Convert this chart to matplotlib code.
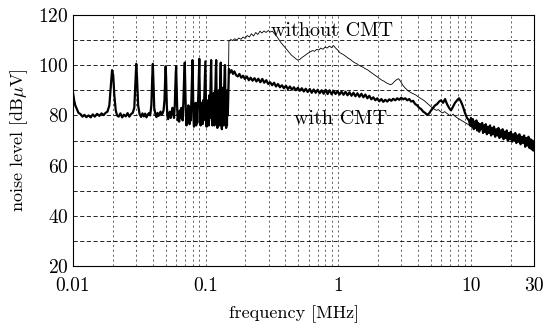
import matplotlib
matplotlib.use("Agg")
import matplotlib.pyplot as plt
import numpy as np

plt.rcParams['font.family'] = ['cmr10', 'DejaVu Serif']
plt.rcParams['mathtext.fontset'] = 'cm'
plt.rcParams['axes.formatter.use_mathtext'] = True

# below 150 kHz both traces coincide (harmonics of 10 kHz)
freq_low = [0.0100, 0.0102, 0.0104, 0.0107, 0.0110, 0.0114, 0.0118, 0.0122, 0.0126, 0.0131,
            0.0136, 0.0141, 0.0146, 0.0152, 0.0158, 0.0164, 0.0170, 0.0176, 0.0182, 0.0188,
            0.0193, 0.0197, 0.0201, 0.0205, 0.0210, 0.0215, 0.0221, 0.0228, 0.0235, 0.0242,
            0.0250, 0.0258, 0.0266, 0.0274, 0.0282, 0.0290, 0.0296, 0.0300, 0.0304, 0.0310,
            0.0318, 0.0326, 0.0334, 0.0342, 0.0350, 0.0358, 0.0366, 0.0374, 0.0382, 0.0390,
            0.0396, 0.0400, 0.0404, 0.0410, 0.0418, 0.0426, 0.0434, 0.0442, 0.0450, 0.0458,
            0.0466, 0.0474, 0.0482, 0.0490, 0.0496, 0.0500, 0.0504, 0.0510, 0.0516, 0.0522,
            0.0530, 0.0538, 0.0546, 0.0554, 0.0562, 0.0570, 0.0578, 0.0586, 0.0592, 0.0596,
            0.0600, 0.0604, 0.0610, 0.0617, 0.0624, 0.0632, 0.0640, 0.0648, 0.0656, 0.0664,
            0.0672, 0.0680, 0.0690, 0.0697, 0.0703, 0.0710, 0.0718, 0.0726, 0.0734, 0.0742,
            0.0750, 0.0758, 0.0766, 0.0774, 0.0782, 0.0790, 0.0797, 0.0803, 0.0810, 0.0818,
            0.0826, 0.0834, 0.0842, 0.0850, 0.0858, 0.0866, 0.0874, 0.0882, 0.0890, 0.0897,
            0.0903, 0.0910, 0.0918, 0.0926, 0.0934, 0.0942, 0.0950, 0.0958, 0.0966, 0.0974,
            0.0982, 0.0990, 0.0997, 0.1003, 0.1010, 0.1018, 0.1028, 0.1038, 0.1048, 0.1058,
            0.1068, 0.1078, 0.1088, 0.1096, 0.1102, 0.1108, 0.1116, 0.1126, 0.1136, 0.1146,
            0.1156, 0.1166, 0.1176, 0.1186, 0.1196, 0.1203, 0.1210, 0.1218, 0.1228, 0.1238,
            0.1248, 0.1258, 0.1268, 0.1278, 0.1288, 0.1296, 0.1302, 0.1310, 0.1318, 0.1328,
            0.1338, 0.1348, 0.1358, 0.1368, 0.1378, 0.1388, 0.1396, 0.1403, 0.1410, 0.1420,
            0.1430, 0.1440, 0.1450, 0.1460, 0.1470, 0.1480]
level_low = [89, 86, 84, 82.5, 81, 80.5, 79.5, 80.2, 79.3, 80,
             79.2, 80.4, 79.5, 80.6, 79.8, 80.8, 80.1, 81, 81.5, 84,
             92, 98, 96, 88, 82, 80, 79.5, 80.8, 79.2, 80.3,
             79.6, 80.9, 79.5, 80.5, 81, 83, 94, 100.5, 95, 84,
             80.5, 79.4, 80.8, 79.6, 80.7, 79.2, 80.3, 80.9, 80, 84,
             95, 100.5, 94, 83, 80.5, 79.3, 81, 79.8, 80.6, 81.5,
             80.2, 80.8, 82, 86, 95, 99.5, 95, 84, 79.5, 78.5,
             80.5, 81.5, 79, 80.5, 83, 81.5, 79, 84, 92, 97,
             99.5, 93, 84, 78, 81, 77.5, 82, 79, 83, 80,
             78, 85, 96, 101, 92, 81, 76, 82, 77, 84,
             79, 76.5, 83, 78, 86, 94, 102, 93, 79, 75.5,
             83, 77, 85, 76, 82, 77, 84, 88, 96, 102.5,
             91, 78, 76, 85, 77, 83, 76.5, 86, 78, 84,
             89, 97, 101.5, 92, 79, 75.5, 86, 77, 84, 76,
             88, 79, 90, 98, 102, 93, 78, 76, 87, 77,
             89, 76, 85, 91, 99, 102, 90, 77, 75, 88,
             77, 90, 76, 86, 93, 99, 101, 89, 76, 74.5,
             87, 78, 91, 76, 88, 94, 100, 100, 88, 77,
             75, 88, 76, 90, 80, 85]

freq_with = [0.1480, 0.150, 0.153, 0.157, 0.161, 0.165, 0.170, 0.175, 0.180, 0.186, 0.192,
             0.198, 0.205, 0.212, 0.219, 0.226, 0.234, 0.242, 0.250, 0.259, 0.268,
             0.277, 0.287, 0.297, 0.307, 0.318, 0.329, 0.340, 0.352, 0.364, 0.377,
             0.390, 0.404, 0.418, 0.433, 0.448, 0.464, 0.480, 0.497, 0.514, 0.532,
             0.551, 0.570, 0.590, 0.611, 0.632, 0.654, 0.677, 0.701, 0.726, 0.751,
             0.778, 0.805, 0.833, 0.862, 0.893, 0.924, 0.956, 0.990, 1.025, 1.061,
             1.098, 1.137, 1.177, 1.218, 1.261, 1.305, 1.351, 1.398, 1.447, 1.498,
             1.551, 1.605, 1.662, 1.720, 1.780, 1.843, 1.908, 1.975, 2.04, 2.12,
             2.19, 2.27, 2.35, 2.43, 2.52, 2.60, 2.70, 2.79, 2.89, 2.99,
             3.10, 3.21, 3.32, 3.44, 3.56, 3.68, 3.81, 3.95, 4.09, 4.23,
             4.38, 4.53, 4.69, 4.86, 5.03, 5.21, 5.39, 5.58, 5.78, 5.98,
             6.19, 6.41, 6.63, 6.87, 7.11, 7.36, 7.62, 7.89, 8.17, 8.45,
             8.75, 9.06, 9.38, 9.71, 9.9, 10.05, 10.2, 10.4, 10.55, 10.7,
             10.9, 11.05, 11.2, 11.4, 11.6, 11.8, 12.0, 12.2, 12.4, 12.6,
             12.8, 13.0, 13.25, 13.5, 13.75, 14.0, 14.25, 14.5, 14.75, 15.0,
             15.3, 15.6, 15.9, 16.2, 16.5, 16.8, 17.1, 17.4, 17.7, 18.0,
             18.35, 18.7, 19.05, 19.4, 19.75, 20.1, 20.5, 20.9, 21.3, 21.7,
             22.1, 22.5, 22.9, 23.3, 23.8, 24.3, 24.8, 25.3, 25.8, 26.3,
             26.8, 27.3, 27.8, 28.3, 28.8, 29.3, 29.7, 30.0]
level_with = [85, 98.5, 97, 98, 96.5, 97.5, 96, 95.5, 96.5, 95, 95.8,
              94.5, 95.5, 94, 95, 93.8, 94.8, 93.5, 94.6, 93.2, 94.5,
              93, 94, 92.5, 93.2, 92, 93, 91.5, 92.5, 91.2, 92,
              90.8, 91.8, 90.5, 91.5, 90.2, 91.2, 90, 91, 89.8, 90.8,
              89.5, 90.6, 89.3, 90.5, 89, 90.3, 89, 90.2, 88.8, 90,
              88.6, 90.2, 88.5, 90, 88.4, 89.8, 88.5, 89.6, 88.3, 89.5,
              88.2, 89.4, 88, 89.2, 87.8, 89, 87.6, 88.8, 87.4, 88.6,
              87.2, 88.3, 86.8, 87.8, 86.4, 87.2, 86, 86.8, 85.6, 86.5,
              85.4, 86.2, 85.5, 86.4, 85.8, 86.6, 86, 86.8, 86.2, 87,
              86.4, 86.8, 86, 86.5, 85.5, 85.8, 84.5, 84, 83, 82.5,
              81.5, 81, 80.2, 80.8, 82, 83, 84, 84.5, 85.5, 86,
              85, 86.5, 84.5, 83, 82, 83.5, 85, 86, 86.8, 85.5,
              83.5, 81, 79, 78, 76, 79, 75.5, 78.5, 74.5, 77.5,
              75, 78, 74, 77, 73.5, 76.5, 74.5, 77, 73, 76,
              73.5, 76.5, 72.5, 75.5, 73, 76, 72, 75, 72.5, 75.5,
              71.5, 74.5, 72, 75, 71, 74, 71.5, 74.5, 70.5, 73.5,
              71, 74, 70, 73, 70.5, 73.5, 69.5, 72.5, 70, 73,
              69, 72, 69.5, 72.5, 68.5, 71.5, 69, 72, 67.5, 71,
              68, 71.5, 67, 70.5, 66.5, 70, 66, 69]

freq_without = [0.1480, 0.150, 0.155, 0.160, 0.166, 0.172, 0.178, 0.185, 0.192, 0.199, 0.206,
                0.214, 0.222, 0.230, 0.239, 0.248, 0.257, 0.266, 0.276, 0.286, 0.297,
                0.308, 0.320, 0.332, 0.344, 0.357, 0.370, 0.384, 0.398, 0.413, 0.428,
                0.444, 0.461, 0.478, 0.496, 0.514, 0.533, 0.553, 0.574, 0.595, 0.617,
                0.640, 0.664, 0.689, 0.715, 0.741, 0.769, 0.797, 0.827, 0.858, 0.890,
                0.923, 0.957, 0.993, 1.03, 1.07, 1.11, 1.15, 1.19, 1.24, 1.28,
                1.33, 1.38, 1.43, 1.48, 1.54, 1.60, 1.66, 1.72, 1.78, 1.85,
                1.92, 1.99, 2.06, 2.14, 2.22, 2.30, 2.39, 2.48, 2.57, 2.66,
                2.76, 2.86, 2.97, 3.08, 3.19, 3.31, 3.43, 3.56, 3.69, 3.83,
                3.97, 4.12, 4.27, 4.43, 4.59, 4.76, 4.94, 5.12, 5.31, 5.51,
                5.71, 5.92, 6.14, 6.37, 6.61, 6.85, 7.11, 7.37, 7.64, 7.93,
                8.22, 8.53, 8.84, 9.17, 9.51, 9.86, 10.2, 10.6, 11.0, 11.4,
                11.8, 12.3, 12.7, 13.2, 13.7, 14.2, 14.7, 15.3, 15.8, 16.4,
                17.0, 17.7, 18.3, 19.0, 19.7, 20.4, 21.2, 22.0, 22.8, 23.6,
                24.5, 25.4, 26.3, 27.3, 28.3, 29.3, 30.0]
level_without = [85, 109.5, 110.2, 109.8, 110.5, 110, 110.8, 110.3, 111.2, 110.6, 111.8,
                 111.2, 112.5, 111.6, 113, 112.2, 113.5, 112.8, 113.6, 113, 113.8,
                 113.2, 113.5, 112.5, 111.5, 110.2, 109, 108, 107, 106, 105,
                 104, 103.3, 102.6, 102, 102.3, 103, 103.6, 104.2, 104.8, 105.3,
                 105.8, 105.5, 106.3, 106, 106.8, 106.3, 107.2, 106.8, 107.6, 107,
                 107.8, 106.8, 106, 105, 104.5, 104, 103.4, 102.8, 102.2, 101.6,
                 101, 100.6, 100, 99.6, 99.2, 98.6, 98.2, 97.6, 97, 96.4,
                 95.8, 95.2, 94.6, 94, 93.6, 93, 92.6, 92.2, 92.6, 93.5,
                 94.2, 94.6, 93.4, 92, 91, 90.2, 89.5, 89, 88.6, 88.2,
                 87.6, 87, 86.5, 86, 85.3, 84.6, 83.8, 83, 82.5, 82,
                 82.3, 81.5, 81, 81.5, 80.8, 80.2, 79.8, 80.5, 79.6, 79,
                 78.5, 78, 77.5, 77, 76.5, 76, 75.5, 76.5, 74.5, 76,
                 74, 75.5, 73.5, 75, 73, 74.5, 72.5, 74, 72, 73.5,
                 71.5, 73, 71, 72.5, 70.5, 72, 70, 71.5, 69.5, 71,
                 69, 70.5, 68.5, 70, 68, 69.5, 68]

x_ticks = [0.01, 0.1, 1, 10, 30]
x_ticklabels = ['0.01', '0.1', '1', '10', '30']
y_ticks = [20, 40, 60, 80, 100, 120]

fig = plt.figure(figsize=(5.51, 3.31), dpi=100)
ax = fig.add_axes([0.1325, 0.196, 0.8365, 0.759])

f_with = freq_low + freq_with
v_with = level_low + level_with
f_without = freq_low + freq_without
v_without = level_low + level_without

ax.plot(f_without, v_without, color='black', lw=0.6, zorder=3)
ax.plot(f_with, v_with, color='black', lw=1.6, zorder=4)

ax.set_xscale('log')
ax.set_xlim(0.01, 30)
ax.set_ylim(20, 120)

# dashed grid on every decade step and every 10 dB
grid_x = [m * d for d in [0.01, 0.1, 1, 10] for m in range(1, 10) if m * d <= 20]
for gx in grid_x[1:]:
    ax.axvline(gx, color='#222222', lw=0.5, ls=(0, (3, 4)), zorder=1)
for gy in range(30, 120, 10):
    ax.axhline(gy, color='black', lw=0.6, ls=(0, (5, 3)), zorder=1)

ax.set_xticks(x_ticks)
ax.set_xticklabels(x_ticklabels)
ax.xaxis.set_minor_locator(matplotlib.ticker.NullLocator())
ax.set_yticks(y_ticks)
ax.tick_params(axis='both', length=0, labelsize=14)
ax.tick_params(axis='x', pad=8)
ax.tick_params(axis='y', pad=3)

for s in ax.spines.values():
    s.set_linewidth(0.8)

ax.set_xlabel('frequency [MHz]', fontsize=13, labelpad=6)
ax.xaxis.set_label_coords(0.48, -0.155)
ax.set_ylabel(r'noise level [dB$\mu$V]', fontsize=13, labelpad=6)

ax.text(0.9, 113.6, 'without CMT', fontsize=14.5, ha='center', va='center', zorder=5)
ax.text(1.05, 78.6, 'with CMT', fontsize=14.5, ha='center', va='center', zorder=5)

fig.savefig('out.png', dpi=100)
